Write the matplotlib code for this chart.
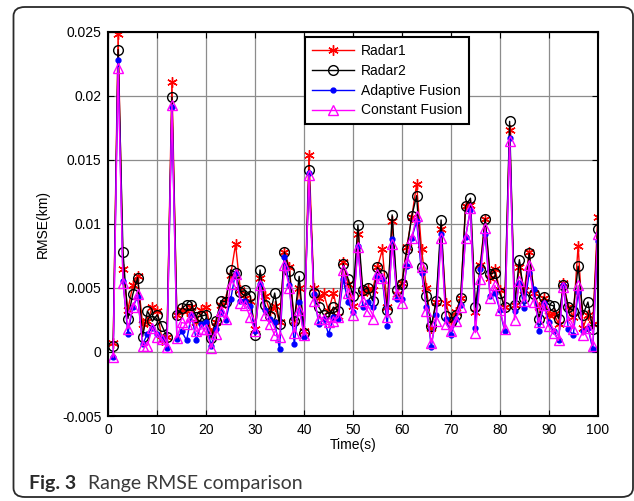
import numpy as np
import matplotlib
matplotlib.use("Agg")
import matplotlib.pyplot as plt
from matplotlib.patches import FancyBboxPatch

t = list(range(1, 101))

radar1 = [0.0007, 0.0248, 0.0065, 0.0033, 0.0052, 0.0059, 0.0022, 0.0024, 0.0035, 0.0032,
          0.0009, 0.0012, 0.0211, 0.0029, 0.0033, 0.0032, 0.0035, 0.0023, 0.0033, 0.0035,
          0.0015, 0.0023, 0.0037, 0.0041, 0.0060, 0.0084, 0.0048, 0.0042, 0.0040, 0.0018,
          0.0058, 0.0044, 0.0032, 0.0036, 0.0023, 0.0078, 0.0066, 0.0024, 0.0050, 0.0016,
          0.0154, 0.0050, 0.0042, 0.0046, 0.0032, 0.0046, 0.0028, 0.0070, 0.0053, 0.0036,
          0.0092, 0.0046, 0.0049, 0.0048, 0.0066, 0.0080, 0.0035, 0.0102, 0.0045, 0.0054,
          0.0082, 0.0105, 0.0131, 0.0080, 0.0050, 0.0019, 0.0039, 0.0096, 0.0038, 0.0024,
          0.0031, 0.0042, 0.0114, 0.0115, 0.0031, 0.0068, 0.0104, 0.0058, 0.0065, 0.0048,
          0.0035, 0.0173, 0.0037, 0.0066, 0.0048, 0.0078, 0.0046, 0.0035, 0.0042, 0.0029,
          0.0030, 0.0022, 0.0054, 0.0035, 0.0027, 0.0083, 0.0019, 0.0029, 0.0022, 0.0105]

radar2 = [0.0005, 0.0236, 0.0078, 0.0026, 0.0045, 0.0058, 0.0012, 0.0032, 0.0024, 0.0029,
          0.0020, 0.0012, 0.0199, 0.0029, 0.0034, 0.0037, 0.0037, 0.0027, 0.0028, 0.0029,
          0.0011, 0.0024, 0.0040, 0.0039, 0.0064, 0.0062, 0.0047, 0.0048, 0.0044, 0.0013,
          0.0064, 0.0037, 0.0028, 0.0046, 0.0022, 0.0078, 0.0063, 0.0024, 0.0059, 0.0015,
          0.0142, 0.0046, 0.0035, 0.0029, 0.0027, 0.0035, 0.0032, 0.0069, 0.0057, 0.0044,
          0.0099, 0.0048, 0.0050, 0.0040, 0.0066, 0.0060, 0.0033, 0.0107, 0.0048, 0.0053,
          0.0080, 0.0106, 0.0122, 0.0066, 0.0044, 0.0020, 0.0040, 0.0103, 0.0028, 0.0023,
          0.0029, 0.0042, 0.0114, 0.0120, 0.0035, 0.0065, 0.0104, 0.0061, 0.0062, 0.0046,
          0.0035, 0.0180, 0.0037, 0.0072, 0.0042, 0.0077, 0.0045, 0.0026, 0.0043, 0.0037,
          0.0036, 0.0026, 0.0052, 0.0035, 0.0032, 0.0067, 0.0029, 0.0039, 0.0018, 0.0096]

adaptive = [-0.0004, 0.0228, 0.0055, 0.0014, 0.0035, 0.0043, 0.0006, 0.0014, 0.0019, 0.0014,
            0.0011, 0.0003, 0.0191, 0.0010, 0.0016, 0.0009, 0.0029, 0.0009, 0.0022, 0.0023,
            0.0005, 0.0018, 0.0031, 0.0025, 0.0041, 0.0062, 0.0040, 0.0040, 0.0036, 0.0016,
            0.0053, 0.0033, 0.0026, 0.0023, 0.0002, 0.0074, 0.0052, 0.0006, 0.0039, 0.0012,
            0.0140, 0.0045, 0.0022, 0.0026, 0.0014, 0.0027, 0.0026, 0.0057, 0.0039, 0.0031,
            0.0083, 0.0035, 0.0039, 0.0035, 0.0059, 0.0057, 0.0020, 0.0088, 0.0041, 0.0041,
            0.0067, 0.0089, 0.0102, 0.0062, 0.0035, 0.0004, 0.0029, 0.0092, 0.0026, 0.0013,
            0.0026, 0.0037, 0.0090, 0.0111, 0.0019, 0.0065, 0.0092, 0.0044, 0.0046, 0.0033,
            0.0016, 0.0167, 0.0032, 0.0054, 0.0034, 0.0062, 0.0049, 0.0016, 0.0038, 0.0023,
            0.0016, 0.0009, 0.0052, 0.0018, 0.0013, 0.0047, 0.0016, 0.0019, 0.0002, 0.0087]

constant = [-0.0004, 0.0222, 0.0054, 0.0018, 0.0035, 0.0045, 0.0005, 0.0005, 0.0019, 0.0012,
            0.0010, 0.0004, 0.0193, 0.0011, 0.0023, 0.0022, 0.0028, 0.0016, 0.0018, 0.0018,
            0.0003, 0.0014, 0.0032, 0.0026, 0.0053, 0.0061, 0.0038, 0.0037, 0.0027, 0.0016,
            0.0052, 0.0029, 0.0022, 0.0013, 0.0012, 0.0068, 0.0050, 0.0015, 0.0033, 0.0013,
            0.0138, 0.0040, 0.0026, 0.0026, 0.0023, 0.0024, 0.0027, 0.0064, 0.0046, 0.0029,
            0.0082, 0.0040, 0.0032, 0.0026, 0.0061, 0.0058, 0.0027, 0.0084, 0.0045, 0.0038,
            0.0070, 0.0089, 0.0106, 0.0066, 0.0032, 0.0007, 0.0024, 0.0089, 0.0022, 0.0016,
            0.0024, 0.0035, 0.0089, 0.0112, 0.0015, 0.0057, 0.0097, 0.0042, 0.0052, 0.0033,
            0.0018, 0.0165, 0.0025, 0.0055, 0.0040, 0.0068, 0.0039, 0.0023, 0.0037, 0.0020,
            0.0015, 0.0009, 0.0051, 0.0024, 0.0018, 0.0052, 0.0013, 0.0019, 0.0005, 0.0092]

x_ticks = [0, 10, 20, 30, 40, 50, 60, 70, 80, 90, 100]
y_ticks = [-0.005, 0, 0.005, 0.01, 0.015, 0.02, 0.025]
y_tick_labels = ["-0.005", "0", "0.005", "0.01", "0.015", "0.02", "0.025"]

plt.rcParams['font.family'] = ['Liberation Sans', 'DejaVu Sans']

W, H = 634, 501
fig = plt.figure(figsize=(W / 100, H / 100), dpi=100)

# outer rounded frame
frame = FancyBboxPatch((13.5 / W, 4 / H), (633 - 13.5) / W, (494 - 4) / H,
                       boxstyle="round,pad=0,rounding_size=0.018",
                       transform=fig.transFigure, fill=False,
                       edgecolor='#2a2a2a', linewidth=1.3, zorder=0)
fig.patches.append(frame)

L, R, T, B = 108.3, 597.7, 31.7, 416.0
ax = fig.add_axes([L / W, 1 - B / H, (R - L) / W, (B - T) / H])

ax.plot(t, radar1, color='#ff0000', marker=(6, 2, 0), markersize=7.5, markeredgewidth=1.0,
        linewidth=1.0, label='Radar1')
ax.plot(t, radar2, color='black', marker='o', markersize=7, markerfacecolor='none',
        linewidth=1.0, label='Radar2')
ax.plot(t, adaptive, color='#0000ff', marker='o', markersize=3.5, linewidth=1.0,
        label='Adaptive Fusion')
ax.plot(t, constant, color='#ff00ff', marker='^', markersize=7.5, markerfacecolor='none',
        linewidth=1.0, label='Constant Fusion')

ax.set_xlim(0, 100)
ax.set_ylim(-0.005, 0.025)
ax.set_xticks(x_ticks)
ax.set_yticks(y_ticks)
ax.set_yticklabels(y_tick_labels)
ax.grid(True, color='#8c8c8c', linewidth=0.9)
ax.set_axisbelow(True)
ax.tick_params(direction='in', top=True, right=True, length=4, width=0.8,
               labelsize=10, pad=5)
for s in ax.spines.values():
    s.set_linewidth(1.5)

ax.set_xlabel('Time(s)', fontsize=10, labelpad=1)
ax.set_ylabel('RMSE(km)', fontsize=10, labelpad=9)

leg = ax.legend(loc='upper left', bbox_to_anchor=((305 - L) / (R - L), (B - 37) / (B - T)),
                fontsize=10, frameon=True, fancybox=False, handlelength=3.0,
                handletextpad=0.5, borderpad=0.5, labelspacing=0.42,
                borderaxespad=0)
leg.get_frame().set_edgecolor('black')
leg.get_frame().set_linewidth(1.5)
leg.get_frame().set_alpha(1)

fig.text(29 / W, 1 - 483 / H, 'Fig. 3', fontsize=14, fontweight='bold',
         family=['Lato', 'DejaVu Sans'], color='#2a2a2a', va='center', ha='left')
fig.text(88 / W, 1 - 483 / H, 'Range RMSE comparison', fontsize=14,
         family=['Lato', 'DejaVu Sans'], color='#3a3a3a', va='center', ha='left')

fig.savefig('out.png', dpi=100)
